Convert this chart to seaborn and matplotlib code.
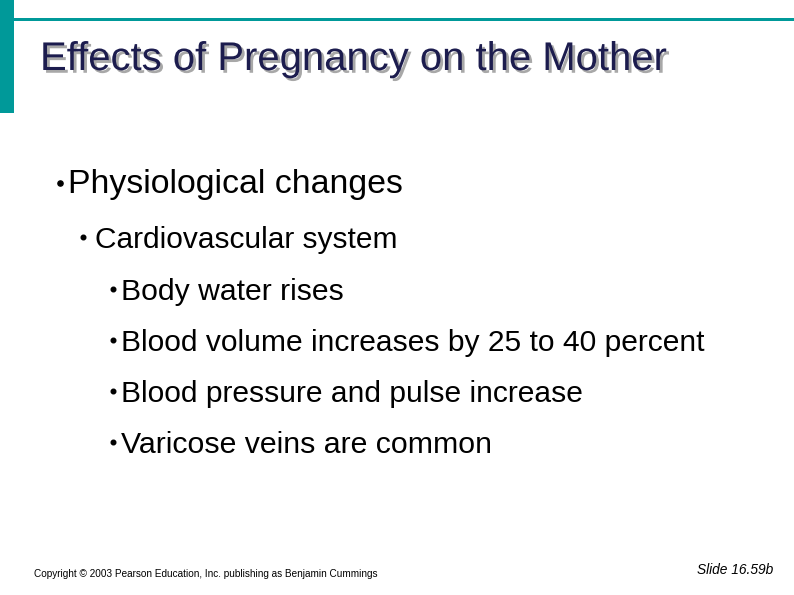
import matplotlib
matplotlib.use("Agg")
import matplotlib.pyplot as plt
import matplotlib.patheffects as pe
import seaborn as sns

sns.set_theme(style="white")
plt.rcParams['font.family'] = ['Liberation Sans', 'DejaVu Sans']

title = "Effects of Pregnancy on the Mother"
level1 = ["Physiological changes"]
level2 = ["Cardiovascular system"]
level3 = ["Body water rises", "Blood volume increases by 25 to 40 percent",
          "Blood pressure and pulse increase", "Varicose veins are common"]
footer_left = "Copyright © 2003 Pearson Education, Inc. publishing as Benjamin Cummings"
footer_right = "Slide 16.59b"

W, H = 794, 595
fig = plt.figure(figsize=(W/100, H/100), dpi=100)
ax = fig.add_axes([0, 0, 1, 1])
ax.set_xlim(0, W); ax.set_ylim(H, 0); ax.axis("off")
teal = "#009999"
ax.add_patch(plt.Rectangle((0, 0), 14, 113, color=teal, lw=0))
ax.add_patch(plt.Rectangle((14, 18), W-14, 3, color=teal, lw=0))

r = fig.canvas.get_renderer()
def fit(x, y, s, x2, color="black", **kw):
    t = ax.text(x, y + 4, s, va="center", ha="left", color=color, fontsize=20, **kw)
    w = t.get_window_extent(r).width
    t.set_fontsize(20 * (x2 - x) / w)
    return t

t = fit(40, 55, title, 665, color="#1c1c4e")
t.set_path_effects([pe.SimplePatchShadow(offset=(2, -2), shadow_rgbFace="#a8a8a8", alpha=1), pe.Normal()])

def bullet(x, y, s):
    ax.scatter([x], [y], s=s, color="black", zorder=3)

bullet(60, 183, 14); fit(68, 181, level1[0], 403)
bullet(83, 237, 11); fit(95, 236, level2[0], 397)
ys = [288, 339, 390, 441]
ends = [343, 705, 582, 491]
for s, y, e in zip(level3, ys, ends):
    bullet(113, y + 1, 11); fit(121, y, s, e)

fit(34, 570, footer_left, 376)
fit(697, 566, footer_right, 773, style="italic")

fig.savefig("out.png", dpi=100)
